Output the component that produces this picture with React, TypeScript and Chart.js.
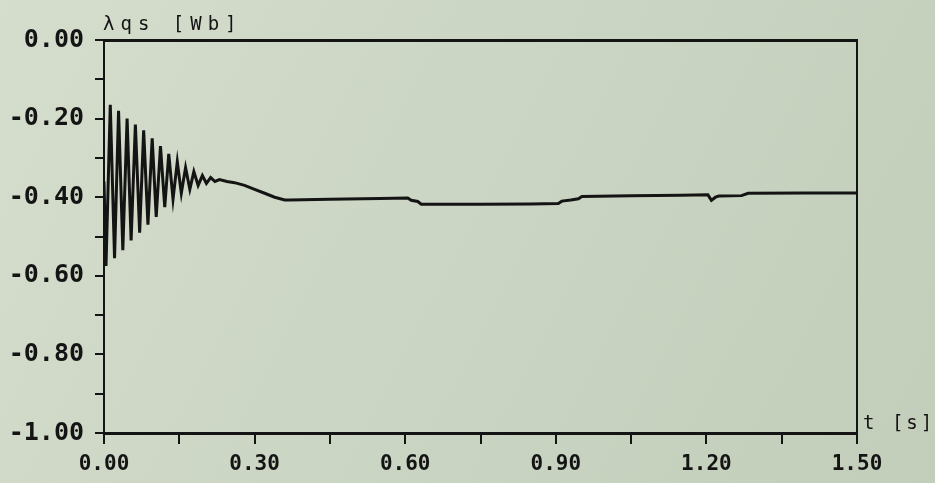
import React, { useEffect, useRef } from "react";
import { Chart, registerables } from "chart.js";

Chart.register(...registerables);

// Sample times [s] of the q-axis stator flux linkage trace
const timeS = [
  0, 0.004, 0.0125, 0.021, 0.029, 0.0375, 0.046, 0.054, 0.0625, 0.071, 0.079,
  0.0875, 0.096, 0.104, 0.1125, 0.121, 0.129, 0.1375, 0.146, 0.154, 0.1625,
  0.171, 0.179, 0.1875, 0.196, 0.204, 0.2125, 0.221, 0.23, 0.245, 0.26, 0.28,
  0.3, 0.32, 0.34, 0.36, 0.37, 0.45, 0.55, 0.605, 0.612, 0.625, 0.632, 0.75,
  0.85, 0.905, 0.912, 0.93, 0.945, 0.952, 1.05, 1.15, 1.203, 1.21, 1.218,
  1.225, 1.27, 1.283, 1.4, 1.5,
];

// λqs [Wb] at those times
const lambdaQs = [
  -0.36, -0.575, -0.165, -0.555, -0.18, -0.535, -0.2, -0.51, -0.215, -0.49,
  -0.23, -0.47, -0.25, -0.45, -0.27, -0.425, -0.29, -0.405, -0.31, -0.39,
  -0.325, -0.38, -0.335, -0.37, -0.345, -0.365, -0.35, -0.36, -0.355, -0.36,
  -0.363, -0.37, -0.38, -0.39, -0.4, -0.407, -0.407, -0.405, -0.403, -0.402,
  -0.408, -0.411, -0.418, -0.418, -0.417, -0.416, -0.41, -0.407, -0.404,
  -0.398, -0.396, -0.395, -0.394, -0.408, -0.4, -0.397, -0.396, -0.39,
  -0.389, -0.389,
];

const yRange = [-1, 0];
const xRange = [0, 1.5];
const yStep = 0.1;
const xStep = 0.15;
const yTitle = "λqs [Wb]";
const xTitle = "t [s]";

const INK = "#141414";
const TICK_FONT = "DejaVu Sans Mono";

const paperPlugin = {
  id: "paper",
  beforeDraw(chart: Chart) {
    const { ctx, width, height } = chart;
    const g = ctx.createLinearGradient(0, 0, width, height);
    g.addColorStop(0, "#d5ddcd");
    g.addColorStop(0.5, "#cbd5c3");
    g.addColorStop(1, "#c2cdba");
    ctx.save();
    ctx.fillStyle = g;
    ctx.fillRect(0, 0, width, height);
    ctx.restore();
  },
  afterDraw(chart: Chart) {
    const { ctx, chartArea } = chart;
    ctx.save();
    ctx.fillStyle = INK;
    ctx.textBaseline = "alphabetic";
    ctx.textAlign = "left";
    ctx.font = `19px ${TICK_FONT}`;
    (ctx as any).letterSpacing = "6px";
    ctx.fillText(yTitle, chartArea.left - 1, chartArea.top - 10);
    (ctx as any).letterSpacing = "3px";
    ctx.fillText(xTitle, chartArea.right + 6, chartArea.bottom - 4);
    ctx.restore();
  },
};

export default function App() {
  const canvasRef = useRef<HTMLCanvasElement | null>(null);

  useEffect(() => {
    document.body.style.margin = "0";
    const canvas = canvasRef.current;
    if (!canvas) return;

    const points = timeS.map((t, i) => ({ x: t, y: lambdaQs[i] }));

    const chart = new Chart(canvas, {
      type: "line",
      data: {
        datasets: [
          {
            data: points,
            borderColor: INK,
            borderWidth: 3,
            pointRadius: 0,
            tension: 0,
            fill: false,
          },
        ],
      },
      options: {
        animation: false,
        responsive: false,
        maintainAspectRatio: false,
        parsing: false,
        layout: { padding: { top: 40, right: 78, left: 0, bottom: 0 } },
        plugins: {
          legend: { display: false },
          tooltip: { enabled: false },
          title: { display: false },
        },
        scales: {
          x: {
            type: "linear",
            position: "bottom",
            min: xRange[0],
            max: xRange[1],
            border: { display: true, color: INK, width: 3 },
            grid: {
              display: true,
              drawOnChartArea: false,
              drawTicks: true,
              tickLength: 11,
              color: INK,
              lineWidth: 2,
            },
            ticks: {
              stepSize: xStep,
              autoSkip: false,
              maxRotation: 0,
              padding: 8,
              color: INK,
              font: { family: TICK_FONT, size: 21, weight: "bold" },
              callback: (v: any) =>
                Math.round(Number(v) / xStep) % 2 === 0 ? Number(v).toFixed(2) : "",
            },
            afterFit: (s: any) => {
              s.height = 50;
            },
          },
          xTop: {
            type: "linear",
            position: "top",
            min: xRange[0],
            max: xRange[1],
            border: { display: true, color: INK, width: 3 },
            grid: { display: false },
            ticks: { display: false },
            afterFit: (s: any) => {
              s.height = 0;
            },
          },
          y: {
            type: "linear",
            position: "left",
            min: yRange[0],
            max: yRange[1],
            border: { display: true, color: INK, width: 2, dash: [7, 4] },
            grid: {
              display: true,
              drawOnChartArea: false,
              drawTicks: true,
              tickLength: 9,
              color: INK,
              lineWidth: 2,
            },
            ticks: {
              stepSize: yStep,
              autoSkip: false,
              padding: 11,
              color: INK,
              font: { family: TICK_FONT, size: 25, weight: "bold" },
              callback: (v: any) =>
                Math.round(Number(v) / yStep) % 2 === 0
                  ? (Math.abs(Number(v)) < 1e-9 ? 0 : Number(v)).toFixed(2)
                  : "",
            },
            afterFit: (s: any) => {
              s.width = 104;
            },
          },
          yRight: {
            type: "linear",
            position: "right",
            min: yRange[0],
            max: yRange[1],
            border: { display: true, color: INK, width: 2, dash: [9, 7] },
            grid: { display: false },
            ticks: { display: false },
            afterFit: (s: any) => {
              s.width = 0;
            },
          },
        },
      },
      plugins: [paperPlugin],
    });

    return () => chart.destroy();
  }, []);

  return (
    <div style={{ width: 935, height: 483 }}>
      <canvas ref={canvasRef} width={935} height={483} style={{ display: "block" }} />
    </div>
  );
}
